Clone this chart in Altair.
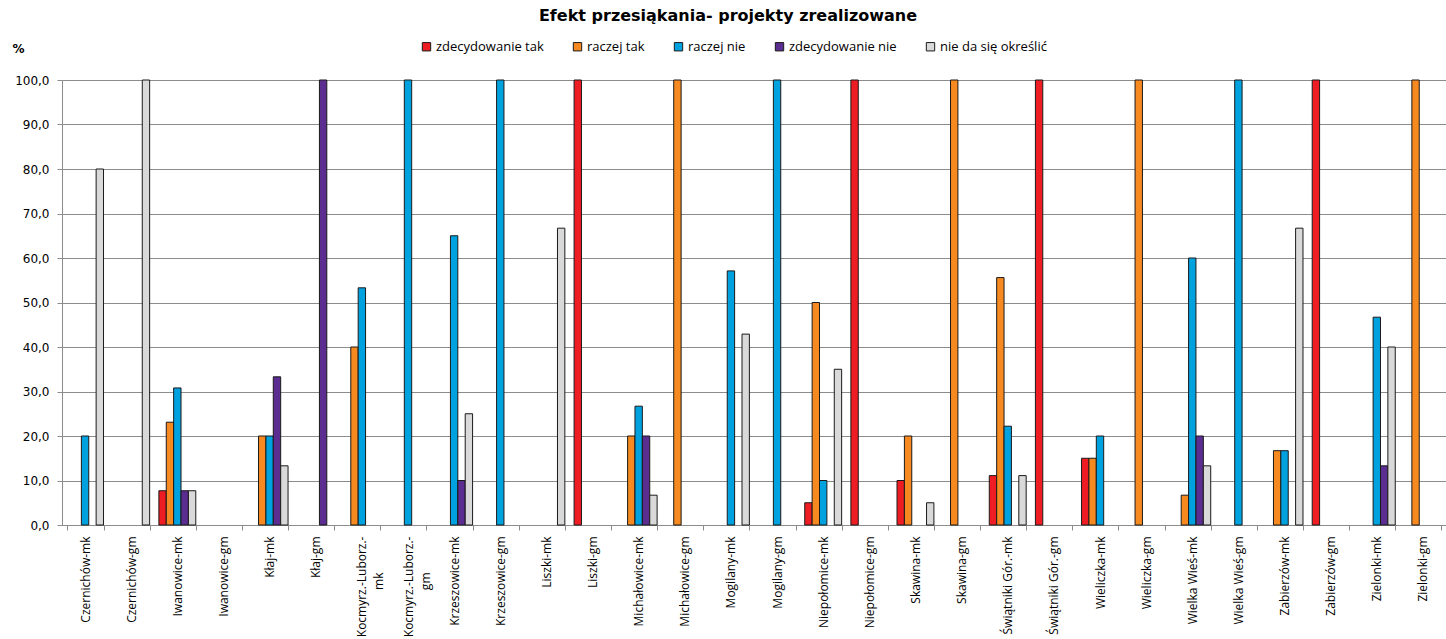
import altair as alt
import pandas as pd

# the short second line of the two-line names is padded with blank glyphs
# so that it sits centred under the first line (labels hang from the axis)
PAD = "\u2800" * 4

categories = [
    "Czernichów-mk", "Czernichów-gm", "Iwanowice-mk", "Iwanowice-gm",
    "Kłaj-mk", "Kłaj-gm", "Kocmyrz.-Luborz.-\nmk" + PAD, "Kocmyrz.-Luborz.-\ngm" + PAD,
    "Krzeszowice-mk", "Krzeszowice-gm", "Liszki-mk", "Liszki-gm",
    "Michałowice-mk", "Michałowice-gm", "Mogilany-mk", "Mogilany-gm",
    "Niepołomice-mk", "Niepołomice-gm", "Skawina-mk", "Skawina-gm",
    "Świątniki Gór.-mk", "Świątniki Gór.-gm", "Wieliczka-mk", "Wieliczka-gm",
    "Wielka Wieś-mk", "Wielka Wieś-gm", "Zabierzów-mk", "Zabierzów-gm",
    "Zielonki-mk", "Zielonki-gm",
]

series = ["zdecydowanie tak", "raczej tak", "raczej nie", "zdecydowanie nie", "nie da się określić"]
colors = ["#EE1D24", "#F6891F", "#00A1DF", "#5B2D90", "#D9D9D9"]

zdecydowanie_tak = [0, 0, 7.7, 0, 0, 0, 0, 0, 0, 0, 0, 100, 0, 0, 0, 0,
                    5.0, 100, 10.0, 0, 11.1, 100, 15.0, 0, 0, 0, 0, 100, 0, 0]
raczej_tak = [0, 0, 23.1, 0, 20.0, 0, 40.0, 0, 0, 0, 0, 0, 20.0, 100, 0, 0,
              50.0, 0, 20.0, 100, 55.6, 0, 15.0, 100, 6.7, 0, 16.7, 0, 0, 100]
raczej_nie = [20.0, 0, 30.8, 0, 20.0, 0, 53.3, 100, 65.0, 100, 0, 0, 26.7, 0, 57.1, 100,
              10.0, 0, 0, 0, 22.2, 0, 20.0, 0, 60.0, 100, 16.7, 0, 46.7, 0]
zdecydowanie_nie = [0, 0, 7.7, 0, 33.3, 100, 0, 0, 10.0, 0, 0, 0, 20.0, 0, 0, 0,
                    0, 0, 0, 0, 0, 0, 0, 0, 20.0, 0, 0, 0, 13.3, 0]
nie_da_sie = [80.0, 100, 7.7, 0, 13.3, 0, 0, 0, 25.0, 0, 66.7, 0, 6.7, 0, 42.9, 0,
              35.0, 0, 5.0, 0, 11.1, 0, 0, 0, 13.3, 0, 66.7, 0, 40.0, 0]

values = [zdecydowanie_tak, raczej_tak, raczej_nie, zdecydowanie_nie, nie_da_sie]

rows = []
for name, vals in zip(series, values):
    for cat, v in zip(categories, vals):
        if v > 0:
            rows.append({"gmina": cat, "odpowiedz": name, "procent": v})
df = pd.DataFrame(rows)

label_font = "Open Sans"

bars = alt.Chart(df).mark_bar(stroke="#1a1a1a", strokeWidth=1).encode(
    x=alt.X(
        "gmina:N",
        sort=categories,
        scale=alt.Scale(domain=categories, paddingInner=0.2, paddingOuter=0.1),
        axis=alt.Axis(
            title=None,
            labelAngle=-90,
            labelAlign="right",
            labelBaseline="middle",
            labelFont=label_font,
            labelFontSize=12,
            labelColor="black",
            labelPadding=6,
            labelExpr="split(datum.label, '\\n')",
            labelLineHeight=17,
            tickBand="extent",
            tickSize=5,
            tickColor="#8c8c8c",
            domainColor="#8c8c8c",
            grid=False,
        ),
    ),
    xOffset=alt.XOffset(
        "odpowiedz:N",
        sort=series,
        scale=alt.Scale(domain=series, paddingInner=0, paddingOuter=0),
    ),
    y=alt.Y(
        "procent:Q",
        scale=alt.Scale(domain=[0, 100], nice=False),
        axis=alt.Axis(
            title="%",
            titleAngle=0,
            titleX=-50,
            titleY=-32,
            titleAlign="left",
            titleBaseline="middle",
            titleFont="DejaVu Sans",
            titleFontSize=12,
            titleFontWeight="bold",
            values=list(range(0, 101, 10)),
            labelExpr="replace(format(datum.value, '.1f'), '.', ',')",
            labelFont="DejaVu Sans",
            labelFontSize=12,
            labelColor="black",
            labelPadding=8,
            tickSize=5,
            tickColor="#8c8c8c",
            domainColor="#8c8c8c",
            gridColor="#8c8c8c",
            gridWidth=1,
        ),
    ),
    color=alt.Color(
        "odpowiedz:N",
        sort=series,
        scale=alt.Scale(domain=series, range=colors),
        legend=alt.Legend(
            title=None,
            orient="none",
            direction="horizontal",
            legendX=358,
            legendY=-40,
            symbolType="square",
            symbolSize=70,
            symbolStrokeColor="#1a1a1a",
            symbolStrokeWidth=1,
            labelFont=label_font,
            labelFontSize=13,
            labelColor="black",
            columnPadding=27,
            labelOffset=3,
        ),
    ),
)

chart = bars.properties(
    width=1384,
    height=445,
    autosize=alt.AutoSizeParams(type="none"),
    padding={"left": 62, "top": 80, "right": 0, "bottom": 114},
    title=alt.TitleParams(
        "Efekt przesiąkania- projekty zrealizowane",
        font="DejaVu Sans",
        fontSize=16,
        fontWeight="bold",
        color="black",
        anchor="middle",
        dx=-26,
        offset=16,
    ),
).configure_view(stroke=None).configure(background="white")

chart.save("out.html", embed_options={"renderer": "svg", "actions": False})
